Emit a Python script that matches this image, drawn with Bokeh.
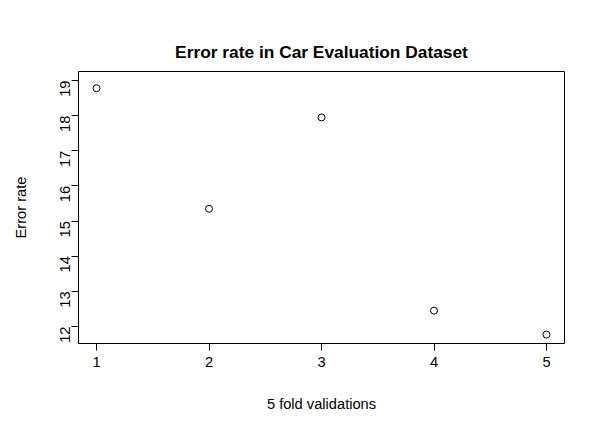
import math
from bokeh.plotting import figure
from bokeh.models import FixedTicker
from bokeh.embed import file_html
from bokeh.resources import INLINE

folds = [1, 2, 3, 4, 5]
error_rate = [18.78, 15.35, 17.95, 12.45, 11.77]
y_ticks = [12, 13, 14, 15, 16, 17, 18, 19]

p = figure(width=589, height=426, output_backend="svg", toolbar_location=None,
           x_range=(0.84, 5.16), y_range=(11.516, 19.256),
           title="Error rate in Car Evaluation Dataset",
           x_axis_label="5 fold validations", y_axis_label="Error rate",
           min_border_left=78, min_border_right=25, min_border_top=71, min_border_bottom=83)

p.background_fill_color = "white"
p.border_fill_color = "white"
p.outline_line_color = "black"
p.outline_line_width = 1
p.xgrid.grid_line_color = None
p.ygrid.grid_line_color = None

p.title.text_font = "Liberation Sans"
p.title.text_font_size = "13pt"
p.title.text_font_style = "bold"
p.title.text_color = "black"
p.title.align = "center"
p.title.standoff = 20

p.xaxis.ticker = FixedTicker(ticks=folds)
p.yaxis.ticker = FixedTicker(ticks=y_ticks)
p.yaxis.major_label_orientation = math.pi / 2

for axis in [p.xaxis, p.yaxis]:
    axis.axis_line_color = None
    axis.major_tick_line_color = "black"
    axis.major_tick_out = 7
    axis.major_tick_in = 0
    axis.minor_tick_line_color = None
    axis.major_label_text_font = "Liberation Sans"
    axis.major_label_text_font_size = "11pt"
    axis.major_label_text_color = "black"
    axis.axis_label_text_font = "Liberation Sans"
    axis.axis_label_text_font_size = "11pt"
    axis.axis_label_text_font_style = "normal"
    axis.axis_label_text_color = "black"
    axis.major_label_standoff = 6

p.xaxis.axis_label_standoff = 26
p.yaxis.axis_label_standoff = 24

p.scatter(folds, error_rate, size=7, fill_color="white", line_color="black", line_width=1)

open("out.html", "w").write(file_html(p, INLINE))
